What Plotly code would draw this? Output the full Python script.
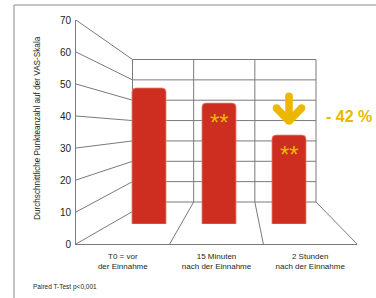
import plotly.graph_objects as go

# ---- data ----
categories = ["T0 = vor<br>der Einnahme", "15 Minuten<br>nach der Einnahme", "2 Stunden<br>nach der Einnahme"]
values = [51.4, 45.7, 33.6]
significance = ["", "**", "**"]
y_ticks = [0, 10, 20, 30, 40, 50, 60, 70]
change_label = "- 42 %"
y_title = "Durchschnittliche Punkteanzahl auf der VAS-Skala"
footnote = "Paired T-Test p<0,001"

# ---- layout constants (pixels) ----
W, H = 376, 298
FONT = "Liberation Sans Narrow, Liberation Sans, Arial, sans-serif"
RED = "#CE2E1F"
YELLOW = "#EBB700"
GRID = "#7a7a7a"
TXT = "#231F20"

# front plane
FX0, FX1, FY0, FY70 = 76, 357, 244, 20
# back wall
BX0, BX1, BY0, BY70 = 132.5, 316, 202, 59.5
FLOOR_LEFT_BACK_X = 149
# bar plane
BAR_X0, BAR_X1, BAR_Y0 = 114, 324, 224
BAR_SCALE = 2.646  # px per unit

def px(x):
    return x / W

def py(y):
    return 1 - y / H

ncat = len(categories)
fsx = (FX1 - FX0) / ncat
fsy = (FY0 - FY70) / 70.0

def to_front(pxx, pyy):
    return (pxx - FX0) / fsx, (FY0 - pyy) / fsy

def back_point(u, v):
    bx = BX0 + u * (BX1 - BX0) / ncat
    by = BY0 - v * (BY0 - BY70) / 70.0
    return to_front(bx, by)

shapes = []
line_style = dict(color=GRID, width=1)

for v in y_ticks:
    bx, by = back_point(0, v)
    if v == 0:
        bx, by = to_front(FLOOR_LEFT_BACK_X, BY0)
    shapes.append(dict(type="line", xref="x", yref="y", x0=0, y0=v, x1=bx, y1=by,
                       line=line_style, layer="below"))
for v in y_ticks:
    x0, y0 = back_point(0, v)
    x1, y1 = back_point(ncat, v)
    shapes.append(dict(type="line", xref="x", yref="y", x0=x0, y0=y0, x1=x1, y1=y1,
                       line=line_style, layer="below"))
for u in range(ncat + 1):
    x0, y0 = back_point(u, 0)
    x1, y1 = back_point(u, max(y_ticks))
    shapes.append(dict(type="line", xref="x", yref="y", x0=x0, y0=y0, x1=x1, y1=y1,
                       line=line_style, layer="below"))
for u in range(1, ncat + 1):
    x0, y0 = back_point(u, 0)
    shapes.append(dict(type="line", xref="x", yref="y", x0=x0, y0=y0, x1=u, y1=0,
                       line=line_style, layer="below"))

shapes.append(dict(type="rect", xref="paper", yref="paper", x0=px(14), y0=-0.2, x1=1.2, y1=py(5),
                   line=dict(color="#8a8a8a", width=1), layer="below"))

ai = ncat - 1
av = values[ai]
aw = 7.5
shaft_top = av + 14.7
tip = av + 5.3
arm = av + 10.2
dxa = 0.179
arrow_line = dict(color=YELLOW, width=aw)
shapes.append(dict(type="line", xref="x2", yref="y2", x0=ai, y0=shaft_top, x1=ai, y1=tip, line=arrow_line))
shapes.append(dict(type="line", xref="x2", yref="y2", x0=ai - dxa, y0=arm, x1=ai, y1=tip, line=arrow_line))
shapes.append(dict(type="line", xref="x2", yref="y2", x0=ai + dxa, y0=arm, x1=ai, y1=tip, line=arrow_line))
for (cx, cy) in [(ai, shaft_top), (ai, tip), (ai - dxa, arm), (ai + dxa, arm)]:
    shapes.append(dict(type="circle", xref="x2", yref="y2", xsizemode="pixel", ysizemode="pixel",
                       xanchor=cx, yanchor=cy, x0=-aw / 2, x1=aw / 2, y0=-aw / 2, y1=aw / 2,
                       fillcolor=YELLOW, line=dict(width=0)))

fig = go.Figure()
fig.add_trace(go.Bar(
    x=list(range(ncat)), y=values, xaxis="x2", yaxis="y2",
    width=0.486, marker=dict(color=RED, line=dict(color="#e8807a", width=0.8), cornerradius=4),
    hoverinfo="skip", showlegend=False,
))

annotations = []
for i, (v, s) in enumerate(zip(values, significance)):
    if s:
        annotations.append(dict(x=i, y=v, xref="x2", yref="y2", text=s, showarrow=False,
                                font=dict(family=FONT, size=24, color=YELLOW),
                                yanchor="top", yshift=-4))
annotations.append(dict(x=px(349), y=py(117), xref="paper", yref="paper", text="<b>" + change_label + "</b>",
                        showarrow=False, font=dict(family=FONT, size=16, color=YELLOW),
                        xanchor="center", yanchor="middle"))
annotations.append(dict(x=px(37), y=py(128), xref="paper", yref="paper", text=y_title, textangle=-90,
                        showarrow=False, font=dict(family=FONT, size=8.2, color=TXT),
                        xanchor="center", yanchor="middle"))
annotations.append(dict(x=px(31), y=py(287), xref="paper", yref="paper", text=footnote,
                        showarrow=False, font=dict(family=FONT, size=6.5, color=TXT),
                        xanchor="left", yanchor="middle"))

fig.update_layout(
    width=W, height=H, autosize=False,
    margin=dict(l=0, r=0, t=0, b=0, pad=0),
    paper_bgcolor="white", plot_bgcolor="rgba(0,0,0,0)",
    font=dict(family=FONT, color=TXT),
    xaxis=dict(domain=[px(FX0), px(FX1)], range=[0, ncat], tickvals=[i + 0.5 for i in range(ncat)],
               ticktext=categories, showline=True, linecolor=GRID, linewidth=1, showgrid=False,
               zeroline=False, ticks="", tickfont=dict(size=8, color=TXT), ticklabelstandoff=4,
               fixedrange=True, automargin=False, anchor="y"),
    yaxis=dict(domain=[py(FY0), py(FY70)], range=[0, 70], tickvals=y_ticks, showline=True,
               linecolor=GRID, linewidth=1, showgrid=False, zeroline=False, ticks="",
               tickfont=dict(size=10, color=TXT), ticklabelstandoff=2, fixedrange=True,
               automargin=False, anchor="x"),
    xaxis2=dict(domain=[px(BAR_X0), px(BAR_X1)], range=[-0.5, ncat - 0.5],
                visible=False, anchor="y2", fixedrange=True, automargin=False),
    yaxis2=dict(domain=[py(BAR_Y0), py(BAR_Y0 - 70 * BAR_SCALE)], range=[0, 70],
                visible=False, anchor="x2", fixedrange=True, automargin=False),
    shapes=shapes,
    annotations=annotations,
)

fig.write_html("out.html", config={"displayModeBar": False},
               post_script="document.body.style.margin='0';document.body.style.overflow='hidden';")
